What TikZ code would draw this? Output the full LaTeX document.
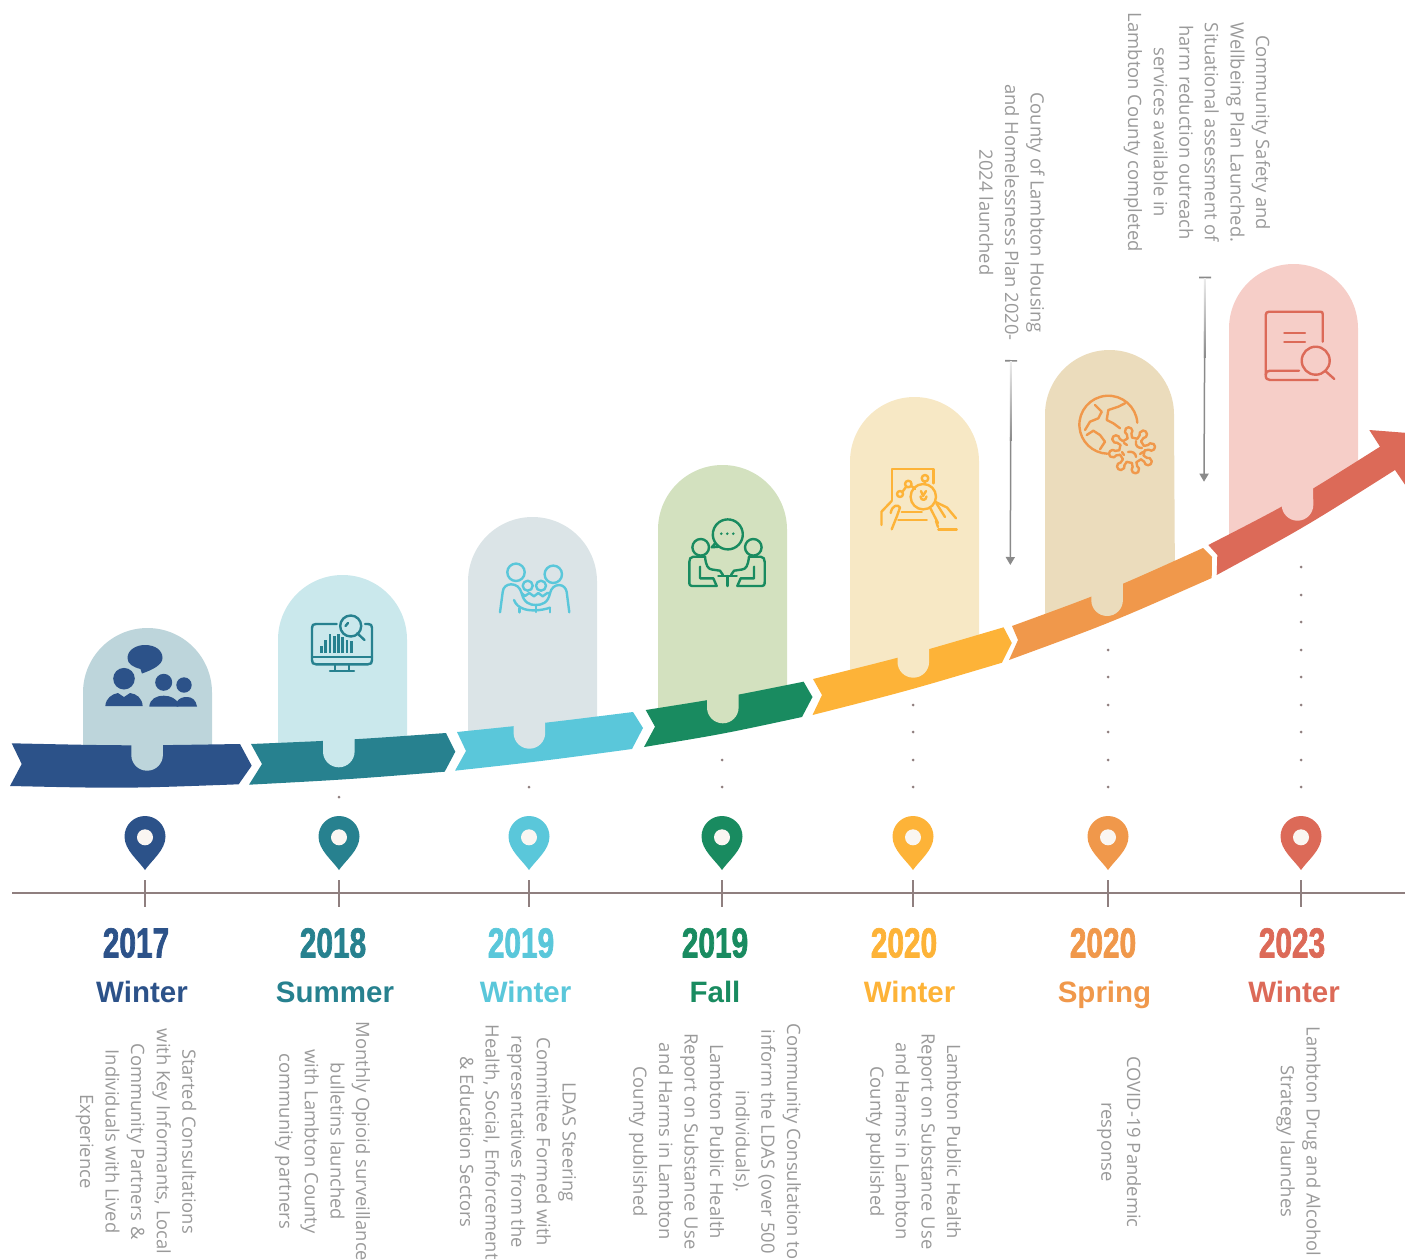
\documentclass[tikz,border=0pt]{standalone}
\usepackage{fontspec}
\setmainfont{Open Sans}
\newfontfamily\yearfont[FakeStretch=0.71, BoldFeatures={FakeBold=1.6}]{Liberation Sans}
\newfontfamily\seasonfont{Liberation Sans}
\usepackage{tikz}
\usetikzlibrary{arrows.meta}
\definecolor{navy}{HTML}{2C5289}
\definecolor{teal1}{HTML}{27818F}
\definecolor{cyan1}{HTML}{5AC7DA}
\definecolor{green1}{HTML}{198B60}
\definecolor{amber}{HTML}{FDB338}
\definecolor{orange1}{HTML}{F0984B}
\definecolor{red1}{HTML}{DC6A58}
\definecolor{pill1}{HTML}{BDD5DB}
\definecolor{pill2}{HTML}{CAE8EC}
\definecolor{pill3}{HTML}{DBE4E7}
\definecolor{pill4}{HTML}{D3E1BF}
\definecolor{pill5}{HTML}{F7E8C5}
\definecolor{pill6}{HTML}{EBDCBC}
\definecolor{pill7}{HTML}{F6CEC8}
\definecolor{stone}{HTML}{8F7F7F}
\definecolor{textgray}{HTML}{9A9A9A}
\definecolor{holewhite}{HTML}{FAF6F2}
\definecolor{calloutgray}{HTML}{8A8A8A}
\tikzstyle{yearlabel} = [font=\yearfont\bfseries\fontsize{42}{42}\selectfont, inner sep=0pt]
\tikzstyle{seasonlabel} = [font=\seasonfont\bfseries\fontsize{29.5}{30}\selectfont, inner sep=0pt, anchor=base]
\tikzstyle{bodytext} = [font=\fontsize{18.4}{25.6}\selectfont, text=textgray, align=center, rotate=-90, inner sep=0pt]
\tikzstyle{iconline} = [line width=2.4pt, line cap=round, line join=round]
\tikzstyle{callout} = [draw=calloutgray, line width=1.5pt, {Bar[width=12pt,line width=1.6pt]}-{Triangle[width=9pt,length=8pt]}]
\newcommand{\pillbg}[6]{\fill[fill=#1] (#2,#5) -- (#2,#4+64.5) arc[start angle=180, end angle=360, radius=64.5] -- (#3,#6) -- cycle;}
\newcommand{\pilltab}[5]{\fill[fill=#1] (#2,#4) -- (#2,#5-15.8) arc[start angle=180, end angle=0, radius=15.8] -- (#3,#4) -- cycle;}
\newcommand{\mappin}[2]{
\fill[fill=#2] (#1,870) .. controls (#1-7,860) and (#1-20.5,850) .. (#1-20.5,836.5) arc[start angle=180, end angle=360, radius=20.5] .. controls (#1+20.5,850) and (#1+7,860) .. cycle;
\fill[fill=holewhite] (#1,837.3) circle[radius=8];
\draw[stone, line width=1.7pt] (#1,880) -- (#1,907);
}
\begin{document}
\begin{tikzpicture}[x=1pt,y=-1pt]
\useasboundingbox (0,0) rectangle (1405,1260);

% pills behind the ribbon
\pillbg{pill1}{83}{212}{628}{765}{765}
\pillbg{pill2}{278}{407}{575}{760}{752}
\pillbg{pill3}{468}{597}{517}{750}{735}
\pillbg{pill4}{658}{787}{465}{727}{707}
\pillbg{pill5}{850}{979}{397}{690}{655}
\pillbg{pill6}{1045}{1175}{350}{635}{590}
\pillbg{pill7}{1229}{1358}{264}{555}{480}

% ribbon
\fill[navy] (11.7,743.3) .. controls (126,745.8) .. (240,744) -- (251.7,765.7) -- (238.7,784.3) .. controls (124,788.5) .. (10,786) -- (21.7,764) -- cycle;
\fill[teal1] (251,744) .. controls (348,740) .. (446,733) -- (455.3,751.7) -- (444.7,771.7) .. controls (347,779.5) .. (249,784.7) -- (262,764) -- cycle;
\fill[cyan1] (457,732) .. controls (545,723) .. (633,712) -- (643,728) -- (632,749) .. controls (543,761) .. (455,770.7) -- (466,751) -- cycle;
\fill[green1] (645.7,710) .. controls (725,697.5) .. (803.6,681.7) -- (812.5,697) -- (802,717) .. controls (723,734) .. (644,747) -- (655,726.7) -- cycle;
\fill[amber] (813,679) .. controls (908,655.5) .. (1003.6,627.3) -- (1011.8,643) -- (1002,662.7) .. controls (907,691) .. (812.5,715) -- (822,695) -- cycle;
\fill[orange1] (1012,626) .. controls (1108,591) .. (1203,548) -- (1212,557) -- (1211.7,578) .. controls (1110,623) .. (1009,660) -- (1018,640) -- cycle;
\fill[red1] (1208.3,545) .. controls (1294,501) .. (1380,446.7) -- (1369.3,430) -- (1440,435.5) -- (1412,495) -- (1395,470) .. controls (1305,527) .. (1216.7,575) -- (1217.3,555) -- cycle;

% tabs over the ribbon
\pilltab{pill1}{131.3}{163}{740}{770.7}
\pilltab{pill2}{323}{354.7}{735}{767.3}
\pilltab{pill3}{513.6}{545}{715}{748.7}
\pilltab{pill4}{707}{738.6}{690}{723.3}
\pilltab{pill5}{897.5}{929}{640}{677.7}
\pilltab{pill6}{1091.3}{1123}{580}{616}
\pilltab{pill7}{1281.7}{1313}{480}{520.7}

% dots down to the pins
\foreach \y in {797} \fill[stone] (339,\y) circle[radius=1.5];
\foreach \y in {787} \fill[stone] (529,\y) circle[radius=1.5];
\foreach \y in {760,787} \fill[stone] (722,\y) circle[radius=1.5];
\foreach \y in {705,732,760,787} \fill[stone] (913,\y) circle[radius=1.5];
\foreach \y in {650,677,705,732,760,787} \fill[stone] (1108,\y) circle[radius=1.5];
\foreach \y in {567,595,622,650,677,705,732,760,787} \fill[stone] (1301,\y) circle[radius=1.5];

% timeline and pins
\draw[stone, line width=1.7pt] (12,892.7) -- (1405,892.7);
\mappin{145}{navy}
\mappin{339}{teal1}
\mappin{529}{cyan1}
\mappin{722}{green1}
\mappin{913}{amber}
\mappin{1108}{orange1}
\mappin{1301}{red1}

% icon 1
\fill[navy] (127.5,658) .. controls (127.5,650) and (136,645) .. (145,645) .. controls (155,645) and (162.5,650) .. (162.5,658) .. controls (162.5,665) and (152,670) .. (142,673.5) -- (140.5,669) .. controls (133,667) and (127.5,664) .. (127.5,658) -- cycle;
\fill[navy] (124,678.7) circle[radius=10.8];
\fill[navy] (105.3,706) .. controls (106,698) and (112,694) .. (118,693) -- (124,697) -- (130,693) .. controls (137,694) and (142,698) .. (142.7,706) -- cycle;
\fill[navy] (163.7,682.3) circle[radius=8.5];
\fill[navy] (149.3,706.5) .. controls (150,699) and (156,695.7) .. (164,695.7) .. controls (171,695.7) and (176,699) .. (178.3,703) -- (178.3,706.5) -- cycle;
\fill[navy] (184,685) circle[radius=7.7];
\fill[navy] (176.7,706.5) -- (176.7,702) .. controls (179,698) and (183,697) .. (187,697) .. controls (192,697) and (196,700) .. (197,706.5) -- cycle;

% icon 2
\draw[iconline, teal1] (336.7,624) -- (316,624) .. controls (313,624) and (312,625) .. (312,628) -- (312,660) .. controls (312,663) and (313,664.3) .. (316,664.3) -- (368,664.3) .. controls (371,664.3) and (372,663) .. (372,660) -- (372,628) .. controls (372,625) and (371,624) .. (368,624) -- (365,624);
\draw[iconline, teal1] (312,656.7) -- (372,656.7);
\draw[iconline, teal1] (335,664.3) -- (335,670.7);
\draw[iconline, teal1] (349,664.3) -- (349,670.7);
\draw[iconline, teal1] (330,670.7) -- (354,670.7);
\draw[iconline, teal1] (350.7,626) circle[radius=10.5];
\draw[iconline, teal1] (357.3,633.3) -- (364.5,640);
\draw[iconline, teal1] (345.5,626) -- (348,623);
\foreach \x/\y in {321.3/646,325.7/640,330/634,334.3/636,338.7/634,342.7/637.3,347/640,351.3/640.7} \draw[teal1, line width=2.5pt] (\x,653) -- (\x,\y);

% icon 3
\draw[iconline, cyan1] (516,572.3) circle[radius=8.7];
\draw[iconline, cyan1] (553.3,574.3) circle[radius=8.7];
\draw[iconline, cyan1] (527.7,585.7) circle[radius=5];
\draw[iconline, cyan1] (541,585.7) circle[radius=5];
\draw[iconline, cyan1] (500,612.3) -- (502.7,592) .. controls (503,587) and (507,584.3) .. (511,584.3) .. controls (516,584.3) and (520,587) .. (521.7,593.3) .. controls (524,603) and (530,605) .. (535.7,605) .. controls (542,605) and (548,603) .. (550,593.3) .. controls (551,588) and (555,585) .. (559,585) .. controls (563,585) and (566,588) .. (566.7,592) -- (569.3,612.3);
\draw[iconline, cyan1] (521.7,593.3) -- (525,596) -- (529.3,593) -- (534,596.3) -- (538.3,593) -- (542.7,596.3) -- (547.3,593) -- (550,593.3);
\draw[iconline, cyan1] (514,600) .. controls (516,605) and (519,607) .. (524,609) .. controls (530,611) and (540,611) .. (550,607.7);
\draw[iconline, cyan1] (519.3,608) -- (519.3,612.3);
\draw[iconline, cyan1] (550,607.7) -- (550,612.3);
\draw[iconline, cyan1] (535.7,605) -- (535.7,612);

% icon 4
\draw[iconline, green1] (715.5,543) arc[start angle=145, end angle=-235, radius=15] -- (711.7,547.3) -- cycle;
\fill[green1] (721.3,533.7) circle[radius=1.4];
\fill[green1] (727.3,533.7) circle[radius=1.4];
\fill[green1] (733.3,533.7) circle[radius=1.4];
\draw[iconline, green1] (700.7,547.3) circle[radius=8.3];
\draw[iconline, green1] (753.3,547.3) circle[radius=8.3];
\draw[iconline, green1] (705,556.7) -- (693.3,556.7) .. controls (690.5,556.7) and (689.3,559) .. (689.3,562) -- (689.3,581.7) .. controls (689.3,585) and (690,586) .. (692,586) -- (716.7,586) -- (713.3,578.3) -- (700,578.3) -- (700,566.7);
\draw[iconline, green1] (705,556.7) .. controls (706,566) and (708,569) .. (712,569.5) -- (720,570.7) -- (723,575);
\draw[iconline, green1] (749,556.7) -- (760.7,556.7) .. controls (763.5,556.7) and (764.7,559) .. (764.7,562) -- (764.7,581.7) .. controls (764.7,585) and (764,586) .. (762,586) -- (737.3,586) -- (740.7,578.3) -- (754,578.3) -- (754,566.7);
\draw[iconline, green1] (749,556.7) .. controls (748,566) and (746,569) .. (742,569.5) -- (734,570.7) -- (731,575);
\draw[iconline, green1] (718.3,576) -- (736.7,576);
\draw[iconline, green1] (727.3,576) -- (727.3,586);

% icon 5
\draw[iconline, amber] (891.7,500) -- (891.7,469) -- (933.3,469) -- (933.3,483.3);
\draw[iconline, amber] (900,494) circle[radius=3];
\draw[iconline, amber] (908.3,484) circle[radius=3.3];
\draw[iconline, amber] (925,478.3) circle[radius=3.3];
\draw[iconline, amber] (902.3,492) -- (906.3,486.5);
\draw[iconline, amber] (911,485.7) -- (915,489);
\draw[iconline, amber] (925,481.6) -- (924.3,484);
\draw[iconline, amber] (923.3,496.7) circle[radius=12.7];
\draw[iconline, amber] (921,491) -- (923,496) -- (926,491);
\draw[iconline, amber] (920.5,496.5) .. controls (921,501) and (926,501) .. (926.5,496.5);
\draw[iconline, amber] (930,507.5) -- (938,523);
\draw[iconline, amber] (936.5,503.5) -- (945,517);
\draw[iconline, amber] (901.7,511.7) -- (921.7,511.7);
\draw[iconline, amber] (898.3,520) -- (926.7,520);
\draw[iconline, amber] (891.7,501) -- (881.5,511.7) -- (881.5,525);
\draw[iconline, amber] (890.7,513) .. controls (892,505) and (898,504) .. (900,507.5) -- (897,516) -- (891.7,529.3);
\draw[iconline, amber] (935,501.7) -- (947,507.5) -- (956,518.3);
\draw[iconline, amber] (938.3,529.3) -- (956.7,529.3);
\draw[iconline, amber] (936,521) -- (938,527);

% icon 6
\draw[iconline, orange1] (1137.3,422.7) arc[start angle=-4, end angle=-268, radius=29];
\draw[iconline, orange1] (1095,405) -- (1101.7,411.7) -- (1098.3,418.3) -- (1090,421.7) -- (1085,430);
\draw[iconline, orange1] (1125,403.3) -- (1118.3,406.7) -- (1108.3,410) -- (1106.7,420) -- (1113.3,423.3) -- (1120,428.3);
\draw[iconline, orange1] (1086.7,435) -- (1093.3,430.7) -- (1100,435) -- (1105,441.7) -- (1100,449.3);
\foreach \a in {10,55,100,145,190,235,280,325} {
\begin{scope}[shift={(1132,450.3)}, rotate=\a]
\draw[iconline, orange1] (12.5,2.3) -- (16.5,2.3) arc[start angle=142.5, end angle=-142.5, radius=3.8] -- (12.5,-2.3);
\draw[iconline, orange1] (12.5,2.3) arc[start angle=10.4, end angle=34.6, radius=12.7];
\end{scope}
}
\draw[iconline, orange1] (1124,443) -- (1127,445);
\draw[iconline, orange1] (1136,441) .. controls (1135,446) and (1138,448) .. (1142,448);
\draw[iconline, orange1] (1128,452) .. controls (1132,451) and (1136,453) .. (1136,457);
\draw[iconline, orange1] (1122,452) -- (1124,455);
\draw[iconline, orange1] (1140,454) -- (1143,452);

% icon 7
\draw[iconline, red1] (1322.7,341.7) -- (1322.7,314) .. controls (1322.7,312) and (1322,311.7) .. (1320,311.7) -- (1269,311.7) .. controls (1267,311.7) and (1265.7,313) .. (1265.7,315) -- (1265.7,375) .. controls (1265.7,378.5) and (1267,380) .. (1270,380) -- (1317.7,380);
\draw[iconline, red1] (1299,370.7) -- (1270,370.7) .. controls (1267,370.7) and (1265.7,372) .. (1265.7,375);
\draw[iconline, red1] (1284.3,332.7) -- (1305,332.7);
\draw[iconline, red1] (1284.3,341.7) -- (1305,341.7);
\draw[iconline, red1] (1315.7,360.7) circle[radius=14];
\draw[iconline, red1] (1325,370.7) -- (1334.3,379);

% years
\node [yearlabel, text=navy] at (136,943) (year_1) {2017};
\node [yearlabel, text=teal1] at (333,943) (year_2) {2018};
\node [yearlabel, text=cyan1] at (521,943) (year_3) {2019};
\node [yearlabel, text=green1] at (715,943) (year_4) {2019};
\node [yearlabel, text=amber] at (904,943) (year_5) {2020};
\node [yearlabel, text=orange1] at (1103,943) (year_6) {2020};
\node [yearlabel, text=red1] at (1292,943) (year_7) {2023};

% seasons
\node [seasonlabel, text=navy] at (142,1002.5) (season_1) {Winter};
\node [seasonlabel, text=teal1] at (335,1002.5) (season_2) {Summer};
\node [seasonlabel, text=cyan1] at (525.5,1002.5) (season_3) {Winter};
\node [seasonlabel, text=green1] at (715,1002.5) (season_4) {Fall};
\node [seasonlabel, text=amber] at (909.5,1002.5) (season_5) {Winter};
\node [seasonlabel, text=orange1] at (1104.5,1002.5) (season_6) {Spring};
\node [seasonlabel, text=red1] at (1294,1002.5) (season_7) {Winter};

% texts below the line
\node [bodytext] at (136,1141.5) (text_1) {Started Consultations\\with Key Informants, Local\\Community Partners \&\\Individuals with Lived\\Experience};
\node [bodytext] at (322.5,1141.5) (text_2) {Monthly Opioid surveillance\\bulletins launched\\with Lambton County\\community partners};
\node [bodytext] at (518,1142) (text_3) {LDAS Steering\\Committee Formed with\\representatives from the\\Health, Social, Enforcement\\\& Education Sectors};
\node [bodytext] at (715,1141.5) (text_4) {Community Consultation to\\inform the LDAS (over 500\\individuals).\\Lambton Public Health\\Report on Substance Use\\and Harms in Lambton\\County published};
\node [bodytext] at (913.5,1141.5) (text_5) {Lambton Public Health\\Report on Substance Use\\and Harms in Lambton\\County published};
\node [bodytext] at (1119,1142) (text_6) {COVID-19 Pandemic\\response};
\node [bodytext] at (1298.5,1141.5) (text_7) {Lambton Drug and Alcohol\\Strategy launches};

% texts above the ribbon
\node [bodytext] at (1012,212.5) (text_8) {County of Lambton Housing\\and Homelessness Plan 2020-\\2024 launched};
\node [bodytext] at (1197,132.5) (text_9) {Community Safety and\\Wellbeing Plan Launched.\\Situational assessment of\\harm reduction outreach\\services available in\\Lambton County completed};

% callouts
\coordinate (arrow1_start) at (1011,360);
\coordinate (arrow1_end) at (1010.3,565);
\coordinate (arrow2_start) at (1205,276.7);
\coordinate (arrow2_end) at (1204,481.7);
\draw[callout] (arrow1_start) -- (arrow1_end);
\draw[callout] (arrow2_start) -- (arrow2_end);
\shade[top color=white!85!gray, bottom color=calloutgray] (1009.9,361.5) rectangle (1011.9,440);
\shade[top color=white!85!gray, bottom color=calloutgray] (1203.8,278.2) rectangle (1205.8,357);

\end{tikzpicture}
\end{document}
